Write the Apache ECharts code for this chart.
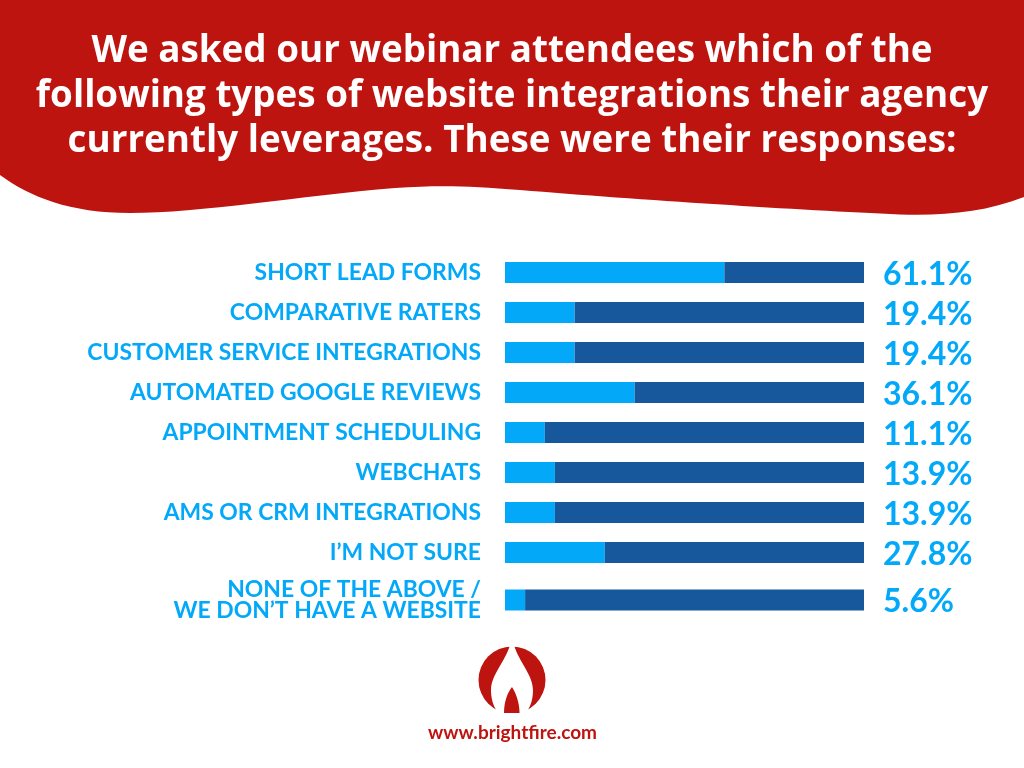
<!DOCTYPE html>
<html><head><meta charset="utf-8">
<style>html,body{margin:0;padding:0;background:#fff}#c{width:1024px;height:768px}</style>
<script src="https://cdn.jsdelivr.net/npm/echarts@6/dist/echarts.min.js"></script>
</head><body><div id="c"></div>
<script>
const titleText = "We asked our webinar attendees which of the\nfollowing types of website integrations their agency\ncurrently leverages. These were their responses:";
const categoriesMain = ["SHORT LEAD FORMS","COMPARATIVE RATERS","CUSTOMER SERVICE INTEGRATIONS","AUTOMATED GOOGLE REVIEWS","APPOINTMENT SCHEDULING","WEBCHATS","AMS OR CRM INTEGRATIONS","I\u2019M NOT SURE"];
const valuesMain = [61.1,19.4,19.4,36.1,11.1,13.9,13.9,27.8];
const categoriesLast = ["NONE OF THE ABOVE /\nWE DON\u2019T HAVE A WEBSITE"];
const valuesLast = [5.6];
const footerUrl = "www.brightfire.com";
const LIGHT="#03a9f8", DARK="#17589c", RED="#bd1410";
const labelFont="Lato", fontTitle="Open Sans";

const reg=(n,d)=>echarts.graphic.registerShape(n,echarts.graphic.extendPath(d,{}));
reg('hdrWave',"M0 0 L1024 0 L1024 197 C985 212 945 216 900 214.5 C800 210 640 200 520 190 C470 186 440 185 395 188 C300 196 200 213 130 213 C70 213 30 197 0 175 Z");
reg('flameOuter',"M510 645 C505 662 491 675 491 690 C491 698 493 706 497 711 L500 716 L524 716 L527 711 C531 706 533 698 533 690 C533 675 519 662 514 645 Z");
reg('flameInner',"M512 687 C507 693 504 703 504 713 L519.5 713 C519.5 703 516 693 512 687 Z");

const chart = echarts.init(document.getElementById('c'), null, {renderer:'canvas'});
function bars(vals, idx){
  const pct = {show:true,position:'right',distance:19,offset:[0,2],color:LIGHT,fontFamily:labelFont,fontWeight:700,fontSize:32,
    formatter:p=>vals[p.dataIndex].toFixed(1)+'%'};
  return [
    {type:'bar',stack:'s'+idx,xAxisIndex:idx,yAxisIndex:idx,barWidth:21,data:vals,itemStyle:{color:LIGHT},silent:true,animation:false},
    {type:'bar',stack:'s'+idx,xAxisIndex:idx,yAxisIndex:idx,barWidth:21,data:vals.map(v=>+(100-v).toFixed(1)),itemStyle:{color:DARK},label:pct,silent:true,animation:false}
  ];
}
const xAxisBase={type:'value',min:0,max:100,show:false};
function yAxis(cats,idx,pad){return {type:'category',gridIndex:idx,inverse:true,data:cats,
  axisLine:{show:false},axisTick:{show:false},splitLine:{show:false},
  axisLabel:{margin:24,color:LIGHT,fontFamily:labelFont,fontWeight:700,fontSize:22.9,lineHeight:20.5,align:'right',padding:pad}}}
chart.setOption({
  animation:false,
  backgroundColor:'#fff',
  title:{text:titleText,left:507,top:24,textAlign:'center',
    textStyle:{color:'#fff',fontFamily:fontTitle,fontWeight:700,fontSize:36.8,lineHeight:45}},
  grid:[{left:505,width:359,top:252.5,height:320},{left:505,width:359,top:580,height:40}],
  xAxis:[Object.assign({gridIndex:0},xAxisBase),Object.assign({gridIndex:1},xAxisBase)],
  yAxis:[yAxis(categoriesMain,0,[0,0,2,0]),yAxis(categoriesLast,1,[3,0,0,0])],
  series:[...bars(valuesMain,0),...bars(valuesLast,1)],
  graphic:[
    {type:'hdrWave',z:-1,silent:true,shape:{},style:{fill:RED}},
    {type:'circle',silent:true,shape:{cx:512,cy:680,r:33.5},style:{fill:RED}},
    {type:'flameOuter',silent:true,shape:{},style:{fill:'#fff'}},
    {type:'flameInner',silent:true,shape:{},style:{fill:RED}},
    {type:'text',silent:true,x:512.5,y:733,style:{text:footerUrl,fill:RED,font:'700 19px Lato',align:'center',verticalAlign:'middle'}}
  ]
});
</script></body></html>
